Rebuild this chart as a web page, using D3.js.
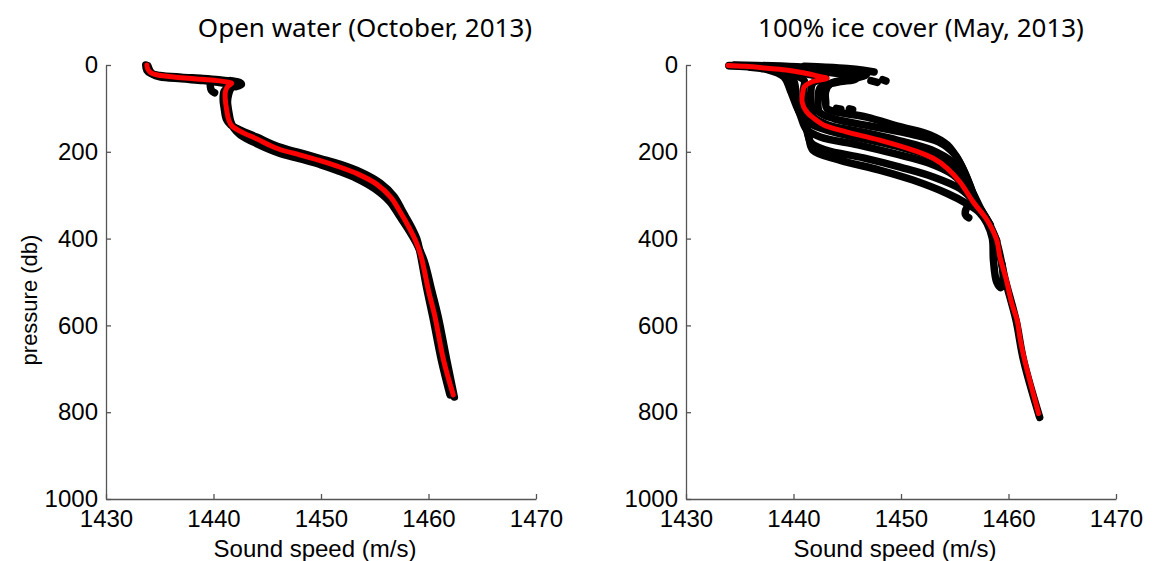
<!DOCTYPE html>
<html>
<head>
<meta charset="utf-8">
<script src="https://cdn.jsdelivr.net/npm/d3@7"></script>
<style>
  html, body { margin: 0; padding: 0; background: #fff; }
  svg { display: block; }
  .tick text { font-family: "Liberation Sans", Arial, sans-serif; }
</style>
</head>
<body>
<svg id="chart" width="1157" height="561"></svg>
<script>
// Axis setup shared by both panels
const xTicks = [1430, 1440, 1450, 1460, 1470];
const yTicks = [0, 200, 400, 600, 800, 1000];
const xLabel = "Sound speed (m/s)";
const yLabel = "pressure (db)";
const titles = ["Open water (October, 2013)", "100% ice cover (May, 2013)"];

// ---- Open water, October 2013: [sound speed, pressure] ----
const openMean = [
  [1433.8,0],[1433.9,10],[1434.2,18],[1434.8,23],[1436.5,28],[1438.5,32],[1440.3,36],
  [1441.2,39],[1441.7,42],[1441.3,50],[1441.1,62],[1441.1,80],[1441.2,100],[1441.4,125],
  [1441.7,140],[1442.5,153],[1444.0,170],[1446.0,193],[1448.0,207],[1450.0,221],
  [1451.5,233],[1453.5,252],[1455.2,275],[1456.5,305],[1457.4,340],[1458.2,375],
  [1458.8,405],[1459.3,440],[1460.0,520],[1460.6,580],[1461.4,680],[1462.3,760]
];
const openCastA = [
  [1433.7,0],[1433.8,12],[1434.2,20],[1435.0,24],[1437.0,28],[1439.0,31],[1440.5,34],
  [1441.5,37],[1442.2,40],[1441.5,48],[1441.0,60],[1440.9,80],[1441.0,100],[1441.2,125],
  [1441.6,138],[1442.5,150],[1444.0,166],[1446.0,188],[1448.0,202],[1450.0,216],
  [1451.8,229],[1453.8,248],[1455.5,272],[1456.8,303],[1457.6,338],[1458.4,373],
  [1458.9,400],[1459.2,430],[1459.8,510],[1460.4,580],[1461.2,680],[1462.0,760]
];
const openCastB = [
  [1433.9,2],[1434.1,14],[1434.4,22],[1435.0,27],[1437.0,32],[1439.0,36],[1440.4,40],
  [1441.3,43],[1441.9,47],[1441.6,55],[1441.4,68],[1441.3,85],[1441.4,105],[1441.6,130],
  [1441.9,146],[1442.5,161],[1444.0,181],[1446.0,202],[1448.0,216],[1450.0,230],
  [1451.5,243],[1453.3,261],[1455.0,285],[1456.4,315],[1457.3,348],[1458.2,382],
  [1458.9,412],[1459.6,452],[1460.3,520],[1460.9,580],[1461.7,680],[1462.4,765]
];
const openSpurs = [
  [[1439.7,48],[1439.8,58],[1440.1,64]],
  [[1441.6,36],[1442.4,40],[1442.6,45],[1442.1,50]]
];

// ---- 100% ice cover, May 2013: [sound speed, pressure] ----
const iceMean = [
  [1433.9,1],[1435.5,3],[1437.8,8],[1439.5,12],[1440.9,18],[1442.2,25],[1443.1,31],
  [1441.8,38],[1441.0,50],[1440.9,58],[1440.8,85],[1441.2,107],[1442.0,125],[1442.8,138],
  [1444.9,154],[1448.0,173],[1451.1,196],[1453.0,215],[1454.3,238],[1455.5,270],
  [1456.7,315],[1458.0,357],[1458.9,403],[1459.2,442],[1459.8,495],[1460.3,549],
  [1460.8,588],[1461.1,634],[1461.5,680],[1462.8,803]
];
const iceCastA = [
  [1434.5,0],[1438.0,2],[1441.0,5],[1443.5,9],[1445.5,15],[1446.8,22],[1445.5,32],
  [1443.5,42],[1443.0,60],[1443.0,85],[1443.1,100],[1446.8,120],[1449.9,142],
  [1452.7,161],[1454.3,184],[1455.5,226],[1456.4,276],[1457.0,316],[1457.9,355],
  [1458.8,400],[1459.7,495],[1460.7,588],[1461.4,680],[1462.9,812]
];
const iceCastB = [
  [1434.0,1],[1437.5,4],[1440.5,9],[1443.0,16],[1445.0,24],[1445.8,32],[1444.0,40],
  [1442.5,52],[1442.3,80],[1442.4,108],[1443.8,124],[1447.0,140],[1450.5,157],
  [1453.5,177],[1455.0,206],[1456.0,252],[1457.0,315],[1458.1,360],[1458.9,405]
];
const iceCastC = [
  [1434.0,2],[1437.0,6],[1439.5,12],[1441.5,22],[1443.0,30],[1441.8,42],[1441.6,70],
  [1441.7,100],[1441.9,120],[1443.2,138],[1446.5,155],[1449.8,174],[1452.8,195],
  [1454.8,224],[1456.0,262],[1457.2,325],[1458.3,368]
];
const iceCastD = [
  [1436.0,5],[1438.5,12],[1440.0,22],[1441.0,36],[1440.9,60],[1441.0,90],[1441.1,115],
  [1441.6,135],[1443.5,153],[1446.5,170],[1450.0,190],[1453.0,212],[1455.0,240],
  [1456.3,278],[1457.5,335],[1458.2,365]
];
const iceCastE = [
  [1437.0,8],[1439.0,18],[1440.0,35],[1440.2,60],[1440.3,90],[1440.7,120],[1441.2,148],
  [1442.5,166],[1446.0,184],[1449.5,205],[1452.5,225],[1454.8,252],[1456.2,288],
  [1457.3,335]
];
const iceCastF = [
  [1437.5,10],[1439.1,27],[1439.7,58],[1440.3,96],[1440.9,127],[1441.4,165],[1441.8,196],
  [1444.3,219],[1448.0,242],[1451.1,265],[1454.3,296],[1456.1,319],[1457.3,340],
  [1458.0,365],[1458.5,400],[1458.6,450],[1458.9,500],[1459.3,513],[1459.5,495],[1459.4,460]
];
const iceCastG = [
  [1440.0,60],[1440.6,110],[1441.2,140],[1441.6,178],[1443.0,196],[1446.5,214],
  [1450.0,236],[1453.0,258],[1455.5,285],[1456.8,315],[1457.6,345]
];
const iceCastH = [
  [1441.0,3],[1443.0,5],[1445.0,8],[1446.5,12],[1447.5,16]
];
const iceSpurs = [
  [[1456.6,320],[1456.1,330],[1456.0,345],[1456.3,352]],
  [[1447.2,36],[1447.8,40]],
  [[1448.3,34],[1448.6,37]],
  [[1444.0,100],[1444.4,102]],
  [[1445.2,101],[1445.5,103]]
];

const panels = [
  { x0: 106, x1: 536, title: titles[0], titleX: 365,
    casts: [openCastA, openCastB], spurs: openSpurs, mean: openMean, showYLabel: true },
  { x0: 686, x1: 1116, title: titles[1], titleX: 921,
    casts: [iceCastA, iceCastB, iceCastC, iceCastD, iceCastE, iceCastF, iceCastG, iceCastH],
    spurs: iceSpurs, mean: iceMean, showYLabel: false }
];

const svg = d3.select("#chart");
const yTop = 65, yBottom = 499;
const axisColor = "#555";

panels.forEach(p => {
  const x = d3.scaleLinear().domain([1430, 1470]).range([p.x0, p.x1]);
  const y = d3.scaleLinear().domain([0, 1000]).range([yTop, yBottom]);
  const line = d3.line().x(d => x(d[0])).y(d => y(d[1])).curve(d3.curveCatmullRom.alpha(0.5));
  const g = svg.append("g");

  // Individual casts drawn as heavy black traces
  g.selectAll("path.cast").data(p.casts.concat(p.spurs)).join("path")
    .attr("class", "cast")
    .attr("d", line)
    .attr("fill", "none")
    .attr("stroke", "#000")
    .attr("stroke-width", 7.5)
    .attr("stroke-linejoin", "round")
    .attr("stroke-linecap", "round");

  // Mean profile in red
  g.append("path").datum(p.mean)
    .attr("d", line)
    .attr("fill", "none")
    .attr("stroke", "#ff0000")
    .attr("stroke-width", 5)
    .attr("stroke-linejoin", "round")
    .attr("stroke-linecap", "round");

  // Axes with inward ticks
  const xAxis = d3.axisBottom(x).tickValues(xTicks).tickFormat(d3.format("d"))
    .tickSizeInner(-5).tickSizeOuter(0).tickPadding(11);
  const yAxis = d3.axisLeft(y).tickValues(yTicks).tickFormat(d3.format("d"))
    .tickSizeInner(-5).tickSizeOuter(0).tickPadding(8);

  const gx = g.append("g").attr("transform", `translate(0,${yBottom})`).call(xAxis);
  const gy = g.append("g").attr("transform", `translate(${p.x0},0)`).call(yAxis);
  [gx, gy].forEach(a => {
    a.select(".domain").attr("stroke", axisColor).attr("stroke-width", 1.3);
    a.selectAll(".tick line").attr("stroke", axisColor).attr("stroke-width", 1.3);
    a.selectAll(".tick text").attr("fill", "#000").attr("font-size", 24);
  });
  gx.selectAll(".tick text").attr("dy", "0.71em");

  g.append("text")
    .attr("x", (p.x0 + p.x1) / 2 - 6)
    .attr("y", 557)
    .attr("text-anchor", "middle")
    .attr("font-family", "Liberation Sans, Arial, sans-serif")
    .attr("font-size", 24)
    .text(xLabel);

  g.append("text")
    .attr("x", p.titleX)
    .attr("y", 37)
    .attr("text-anchor", "middle")
    .attr("font-family", "Noto Sans, sans-serif")
    .attr("font-size", 26)
    .text(p.title);

  if (p.showYLabel) {
    g.append("text")
      .attr("transform", `translate(37,${(yTop + yBottom) / 2 + 18}) rotate(-90)`)
      .attr("text-anchor", "middle")
      .attr("font-family", "Liberation Sans, Arial, sans-serif")
      .attr("font-size", 22)
      .text(yLabel);
  }
});
</script>
</body>
</html>
